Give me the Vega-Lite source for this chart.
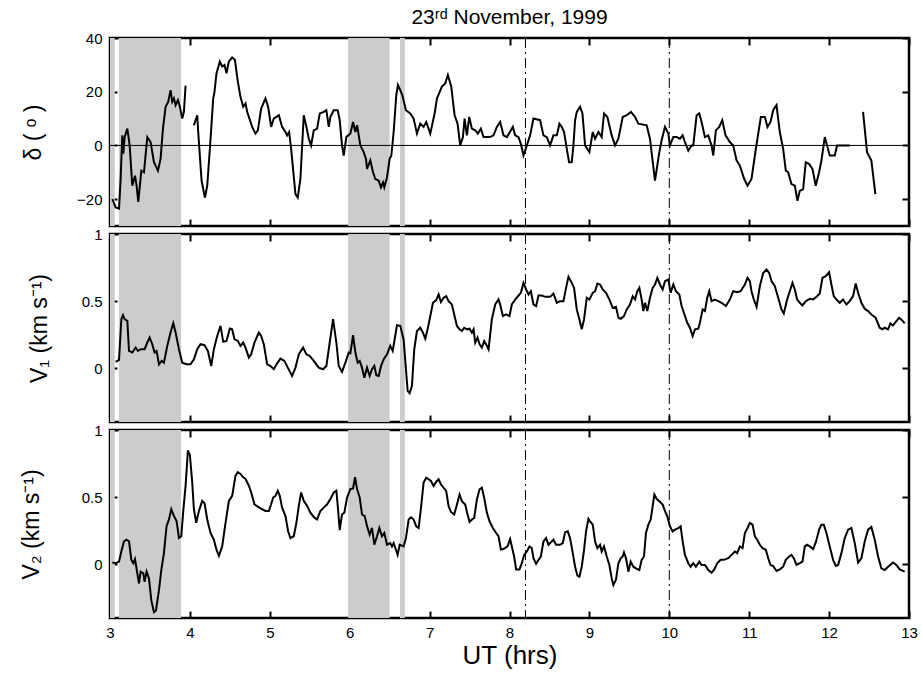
{
"$schema": "https://vega.github.io/schema/vega-lite/v6.json",
"padding": {"left": 18, "top": 5, "right": 8, "bottom": 2},
"spacing": -4,
"datasets": {
"shade": [{"a":3.0,"b":3.06},{"a":3.11,"b":3.89},{"a":5.98,"b":6.5},{"a":6.63,"b":6.69}],
"dash": [{"t":8.2},{"t":10.0}],
"d1": [
{"t":3.029,"v":-20,"s":1},{"t":3.071,"v":-23.1,"s":1},{"t":3.113,"v":-23.5,"s":1},{"t":3.133,"v":-12.5,"s":1},{"t":3.154,"v":3.75,"s":1},{"t":3.167,"v":-3.1,"s":1},{"t":3.183,"v":3.1,"s":1},{"t":3.217,"v":6.25,"s":1},{"t":3.246,"v":0,"s":1},{"t":3.279,"v":-15,"s":1},{"t":3.313,"v":-11.25,"s":1},{"t":3.333,"v":-15,"s":1},{"t":3.354,"v":-21,"s":1},{"t":3.392,"v":-9.4,"s":1},{"t":3.425,"v":-10,"s":1},{"t":3.467,"v":3.1,"s":1},{"t":3.508,"v":1.25,"s":1},{"t":3.55,"v":-6.25,"s":1},{"t":3.6,"v":-9.4,"s":1},{"t":3.633,"v":-5,"s":1},{"t":3.663,"v":6.25,"s":1},{"t":3.696,"v":14.4,"s":1},{"t":3.729,"v":16.25,"s":1},{"t":3.758,"v":20.6,"s":1},{"t":3.779,"v":16.25,"s":1},{"t":3.8,"v":17.5,"s":1},{"t":3.821,"v":15,"s":1},{"t":3.85,"v":16.9,"s":1},{"t":3.875,"v":14.4,"s":1},{"t":3.904,"v":10,"s":1},{"t":3.925,"v":12.5,"s":1},{"t":3.946,"v":22.25,"s":1},
{"t":4.05,"v":7.5,"s":2},{"t":4.092,"v":11.25,"s":2},{"t":4.104,"v":5,"s":2},{"t":4.146,"v":-13.1,"s":2},{"t":4.188,"v":-19.4,"s":2},{"t":4.217,"v":-15,"s":2},{"t":4.25,"v":-1.25,"s":2},{"t":4.292,"v":17.5,"s":2},{"t":4.308,"v":20,"s":2},{"t":4.333,"v":26.9,"s":2},{"t":4.375,"v":31.25,"s":2},{"t":4.404,"v":29.4,"s":2},{"t":4.433,"v":30,"s":2},{"t":4.458,"v":26.9,"s":2},{"t":4.488,"v":31.25,"s":2},{"t":4.529,"v":32.75,"s":2},{"t":4.563,"v":31.9,"s":2},{"t":4.6,"v":23.75,"s":2},{"t":4.633,"v":18.1,"s":2},{"t":4.667,"v":14.4,"s":2},{"t":4.696,"v":15.6,"s":2},{"t":4.717,"v":12.5,"s":2},{"t":4.779,"v":6.9,"s":2},{"t":4.821,"v":4.4,"s":2},{"t":4.85,"v":5.6,"s":2},{"t":4.892,"v":13.75,"s":2},{"t":4.946,"v":17.5,"s":2},{"t":4.979,"v":14.4,"s":2},{"t":5.017,"v":6.9,"s":2},{"t":5.05,"v":10,"s":2},{"t":5.113,"v":11.25,"s":2},{"t":5.154,"v":6.9,"s":2},{"t":5.196,"v":5,"s":2},{"t":5.217,"v":3.75,"s":2},{"t":5.242,"v":5,"s":2},{"t":5.267,"v":-1.25,"s":2},{"t":5.321,"v":-18.1,"s":2},{"t":5.35,"v":-19.4,"s":2},{"t":5.383,"v":-12.5,"s":2},{"t":5.425,"v":11.25,"s":2},{"t":5.454,"v":7.5,"s":2},{"t":5.488,"v":2.5,"s":2},{"t":5.517,"v":0,"s":2},{"t":5.55,"v":5.6,"s":2},{"t":5.592,"v":6.25,"s":2},{"t":5.625,"v":11.9,"s":2},{"t":5.675,"v":12.5,"s":2},{"t":5.708,"v":13.1,"s":2},{"t":5.738,"v":6.9,"s":2},{"t":5.758,"v":10.6,"s":2},{"t":5.8,"v":13.1,"s":2},{"t":5.85,"v":13.1,"s":2},{"t":5.875,"v":9.4,"s":2},{"t":5.904,"v":0,"s":2},{"t":5.925,"v":-3.75,"s":2},{"t":5.958,"v":3.1,"s":2},{"t":6.008,"v":4.4,"s":2},{"t":6.042,"v":8.75,"s":2},{"t":6.071,"v":5,"s":2},{"t":6.092,"v":7.5,"s":2},{"t":6.113,"v":3.75,"s":2},{"t":6.133,"v":0,"s":2},{"t":6.175,"v":-2.5,"s":2},{"t":6.204,"v":-5,"s":2},{"t":6.217,"v":-8.75,"s":2},{"t":6.258,"v":-5.6,"s":2},{"t":6.292,"v":-10,"s":2},{"t":6.321,"v":-12.5,"s":2},{"t":6.363,"v":-13.1,"s":2},{"t":6.392,"v":-15.6,"s":2},{"t":6.417,"v":-13.75,"s":2},{"t":6.433,"v":-15.6,"s":2},{"t":6.467,"v":-11.9,"s":2},{"t":6.5,"v":-5,"s":2},{"t":6.521,"v":-3.75,"s":2},{"t":6.55,"v":5,"s":2},{"t":6.583,"v":18.75,"s":2},{"t":6.604,"v":22.5,"s":2},{"t":6.633,"v":20.6,"s":2},{"t":6.658,"v":18.75,"s":2},{"t":6.704,"v":13.1,"s":2},{"t":6.758,"v":11.9,"s":2},{"t":6.8,"v":10,"s":2},{"t":6.842,"v":4.4,"s":2},{"t":6.883,"v":8.1,"s":2},{"t":6.925,"v":6.9,"s":2},{"t":6.958,"v":8.75,"s":2},{"t":7.008,"v":4.4,"s":2},{"t":7.063,"v":11.9,"s":2},{"t":7.092,"v":17.5,"s":2},{"t":7.154,"v":21.9,"s":2},{"t":7.196,"v":23.1,"s":2},{"t":7.229,"v":26.25,"s":2},{"t":7.271,"v":21.9,"s":2},{"t":7.313,"v":11.25,"s":2},{"t":7.35,"v":8.1,"s":2},{"t":7.383,"v":0,"s":2},{"t":7.417,"v":3.1,"s":2},{"t":7.438,"v":10,"s":2},{"t":7.467,"v":3.75,"s":2},{"t":7.496,"v":10.6,"s":2},{"t":7.529,"v":6.25,"s":2},{"t":7.571,"v":5.6,"s":2},{"t":7.604,"v":4.4,"s":2},{"t":7.642,"v":6.25,"s":2},{"t":7.675,"v":3.1,"s":2},{"t":7.758,"v":3.1,"s":2},{"t":7.8,"v":3.75,"s":2},{"t":7.842,"v":6.9,"s":2},{"t":7.883,"v":8.75,"s":2},{"t":7.925,"v":3.75,"s":2},{"t":7.967,"v":3.1,"s":2},{"t":8.042,"v":6.9,"s":2},{"t":8.071,"v":3.75,"s":2},{"t":8.113,"v":3.1,"s":2},{"t":8.142,"v":0.6,"s":2},{"t":8.175,"v":-3.75,"s":2},{"t":8.217,"v":0,"s":2},{"t":8.258,"v":3.75,"s":2},{"t":8.3,"v":10,"s":2},{"t":8.383,"v":9.4,"s":2},{"t":8.425,"v":3.75,"s":2},{"t":8.467,"v":3.1,"s":2},{"t":8.508,"v":0,"s":2},{"t":8.55,"v":3.75,"s":2},{"t":8.592,"v":3.75,"s":2},{"t":8.625,"v":8.1,"s":2},{"t":8.654,"v":6.9,"s":2},{"t":8.683,"v":5,"s":2},{"t":8.717,"v":-1.25,"s":2},{"t":8.746,"v":-6.25,"s":2},{"t":8.779,"v":-6.25,"s":2},{"t":8.8,"v":0,"s":2},{"t":8.821,"v":9.4,"s":2},{"t":8.842,"v":12.5,"s":2},{"t":8.883,"v":14.4,"s":2},{"t":8.913,"v":11.9,"s":2},{"t":8.946,"v":0,"s":2},{"t":9.0,"v":-2.5,"s":2},{"t":9.042,"v":5,"s":2},{"t":9.071,"v":2.5,"s":2},{"t":9.113,"v":5,"s":2},{"t":9.154,"v":3.1,"s":2},{"t":9.183,"v":11.9,"s":2},{"t":9.225,"v":10.6,"s":2},{"t":9.279,"v":3.75,"s":2},{"t":9.321,"v":0,"s":2},{"t":9.363,"v":2.5,"s":2},{"t":9.417,"v":10.6,"s":2},{"t":9.467,"v":11.25,"s":2},{"t":9.521,"v":12.5,"s":2},{"t":9.571,"v":10.6,"s":2},{"t":9.613,"v":8.1,"s":2},{"t":9.717,"v":7.5,"s":2},{"t":9.758,"v":2.5,"s":2},{"t":9.821,"v":-13.1,"s":2},{"t":9.875,"v":-2.5,"s":2},{"t":9.904,"v":1.9,"s":2},{"t":9.946,"v":6.9,"s":2},{"t":9.988,"v":4.4,"s":2},{"t":10.008,"v":0,"s":2},{"t":10.05,"v":3.1,"s":2},{"t":10.092,"v":3.1,"s":2},{"t":10.133,"v":2.5,"s":2},{"t":10.167,"v":3.75,"s":2},{"t":10.196,"v":1.25,"s":2},{"t":10.238,"v":-1.9,"s":2},{"t":10.279,"v":0,"s":2},{"t":10.3,"v":0,"s":2},{"t":10.342,"v":11.25,"s":2},{"t":10.375,"v":11.9,"s":2},{"t":10.404,"v":8.75,"s":2},{"t":10.446,"v":3.1,"s":2},{"t":10.488,"v":3.75,"s":2},{"t":10.529,"v":0,"s":2},{"t":10.55,"v":-3.75,"s":2},{"t":10.583,"v":5.6,"s":2},{"t":10.625,"v":6.9,"s":2},{"t":10.663,"v":9.4,"s":2},{"t":10.704,"v":3.75,"s":2},{"t":10.758,"v":1.25,"s":2},{"t":10.8,"v":0,"s":2},{"t":10.842,"v":-5.6,"s":2},{"t":10.883,"v":-7.5,"s":2},{"t":10.938,"v":-12.5,"s":2},{"t":10.979,"v":-15,"s":2},{"t":11.029,"v":-12.5,"s":2},{"t":11.071,"v":-3.75,"s":2},{"t":11.113,"v":4.4,"s":2},{"t":11.146,"v":10.6,"s":2},{"t":11.196,"v":10.6,"s":2},{"t":11.229,"v":6.9,"s":2},{"t":11.267,"v":8.75,"s":2},{"t":11.3,"v":13.1,"s":2},{"t":11.342,"v":15,"s":2},{"t":11.383,"v":5,"s":2},{"t":11.425,"v":-1.25,"s":2},{"t":11.458,"v":-9.4,"s":2},{"t":11.488,"v":-10,"s":2},{"t":11.529,"v":-14.4,"s":2},{"t":11.571,"v":-15,"s":2},{"t":11.604,"v":-20.6,"s":2},{"t":11.633,"v":-16.9,"s":2},{"t":11.675,"v":-16.25,"s":2},{"t":11.708,"v":-6.25,"s":2},{"t":11.75,"v":-6.9,"s":2},{"t":11.792,"v":-8.75,"s":2},{"t":11.833,"v":-15,"s":2},{"t":11.875,"v":-10,"s":2},{"t":11.904,"v":-5.6,"s":2},{"t":11.946,"v":3.1,"s":2},{"t":11.975,"v":0,"s":2},{"t":12.008,"v":-3.75,"s":2},{"t":12.071,"v":-3.75,"s":2},{"t":12.1,"v":0,"s":2},{"t":12.258,"v":0,"s":2},
{"t":12.425,"v":12.5,"s":3},{"t":12.475,"v":-2.5,"s":3},{"t":12.529,"v":-5.6,"s":3},{"t":12.579,"v":-18.1,"s":3}
],
"v1": [
{"t":3.071,"v":0.047},{"t":3.113,"v":0.062},{"t":3.142,"v":0.366},{"t":3.163,"v":0.396},{"t":3.183,"v":0.366},{"t":3.217,"v":0.353},{"t":3.238,"v":0.129},{"t":3.279,"v":0.117},{"t":3.321,"v":0.154},{"t":3.35,"v":0.129},{"t":3.383,"v":0.142},{"t":3.433,"v":0.142},{"t":3.467,"v":0.192},{"t":3.496,"v":0.229},{"t":3.529,"v":0.179},{"t":3.558,"v":0.117},{"t":3.583,"v":0.129},{"t":3.613,"v":0.03},{"t":3.646,"v":0.055},{"t":3.675,"v":0.042},{"t":3.717,"v":0.167},{"t":3.758,"v":0.266},{"t":3.792,"v":0.336},{"t":3.821,"v":0.266},{"t":3.863,"v":0.142},{"t":3.904,"v":0.042},{"t":3.958,"v":0.03},{"t":4.008,"v":0.03},{"t":4.05,"v":0.067},{"t":4.092,"v":0.142},{"t":4.133,"v":0.179},{"t":4.183,"v":0.172},{"t":4.225,"v":0.129},{"t":4.267,"v":0.017},{"t":4.3,"v":0.142},{"t":4.342,"v":0.241},{"t":4.383,"v":0.316},{"t":4.417,"v":0.197},{"t":4.458,"v":0.204},{"t":4.5,"v":0.296},{"t":4.529,"v":0.291},{"t":4.558,"v":0.216},{"t":4.6,"v":0.204},{"t":4.633,"v":0.167},{"t":4.667,"v":0.192},{"t":4.696,"v":0.154},{"t":4.738,"v":0.08},{"t":4.767,"v":0.104},{"t":4.808,"v":0.192},{"t":4.863,"v":0.266},{"t":4.892,"v":0.241},{"t":4.925,"v":0.179},{"t":4.967,"v":0.03},{"t":5.008,"v":0.017},{"t":5.05,"v":-0.007},{"t":5.092,"v":0.037},{"t":5.133,"v":0.072},{"t":5.183,"v":0.055},{"t":5.225,"v":0.005},{"t":5.279,"v":-0.057},{"t":5.321,"v":0.005},{"t":5.363,"v":0.104},{"t":5.417,"v":0.154},{"t":5.458,"v":0.104},{"t":5.5,"v":0.092},{"t":5.55,"v":0.055},{"t":5.613,"v":0.005},{"t":5.667,"v":-0.007},{"t":5.708,"v":0.017},{"t":5.75,"v":0.192},{"t":5.792,"v":0.366},{"t":5.833,"v":0.192},{"t":5.863,"v":0.017},{"t":5.904,"v":-0.027},{"t":5.946,"v":0.042},{"t":5.988,"v":0.117},{"t":6.008,"v":0.112},{"t":6.042,"v":0.246},{"t":6.071,"v":0.117},{"t":6.1,"v":0.042},{"t":6.125,"v":0.055},{"t":6.154,"v":0.005},{"t":6.183,"v":-0.07},{"t":6.217,"v":0.005},{"t":6.25,"v":-0.057},{"t":6.279,"v":-0.007},{"t":6.308,"v":0.017},{"t":6.333,"v":-0.052},{"t":6.363,"v":-0.057},{"t":6.392,"v":0.017},{"t":6.425,"v":0.067},{"t":6.467,"v":0.104},{"t":6.508,"v":0.167},{"t":6.538,"v":0.129},{"t":6.563,"v":0.216},{"t":6.592,"v":0.321},{"t":6.633,"v":0.316},{"t":6.675,"v":0.215},{"t":6.704,"v":-0.007},{"t":6.725,"v":-0.168},{"t":6.75,"v":-0.186},{"t":6.779,"v":-0.131},{"t":6.808,"v":0.141},{"t":6.842,"v":0.277},{"t":6.883,"v":0.302},{"t":6.917,"v":0.265},{"t":6.946,"v":0.22},{"t":6.975,"v":0.29},{"t":7.017,"v":0.414},{"t":7.042,"v":0.488},{"t":7.083,"v":0.508},{"t":7.113,"v":0.55},{"t":7.142,"v":0.493},{"t":7.175,"v":0.525},{"t":7.208,"v":0.537},{"t":7.238,"v":0.5},{"t":7.279,"v":0.475},{"t":7.308,"v":0.401},{"t":7.342,"v":0.315},{"t":7.375,"v":0.29},{"t":7.404,"v":0.277},{"t":7.433,"v":0.302},{"t":7.467,"v":0.29},{"t":7.5,"v":0.295},{"t":7.529,"v":0.265},{"t":7.55,"v":0.29},{"t":7.571,"v":0.191},{"t":7.6,"v":0.228},{"t":7.625,"v":0.178},{"t":7.654,"v":0.154},{"t":7.683,"v":0.203},{"t":7.708,"v":0.178},{"t":7.738,"v":0.141},{"t":7.779,"v":0.364},{"t":7.821,"v":0.475},{"t":7.863,"v":0.513},{"t":7.883,"v":0.475},{"t":7.917,"v":0.389},{"t":7.958,"v":0.401},{"t":8.0,"v":0.389},{"t":8.029,"v":0.475},{"t":8.071,"v":0.512},{"t":8.113,"v":0.542},{"t":8.142,"v":0.562},{"t":8.175,"v":0.636},{"t":8.208,"v":0.587},{"t":8.238,"v":0.55},{"t":8.267,"v":0.574},{"t":8.3,"v":0.475},{"t":8.333,"v":0.463},{"t":8.363,"v":0.542},{"t":8.404,"v":0.542},{"t":8.446,"v":0.532},{"t":8.508,"v":0.532},{"t":8.55,"v":0.557},{"t":8.592,"v":0.488},{"t":8.633,"v":0.5},{"t":8.675,"v":0.5},{"t":8.708,"v":0.599},{"t":8.738,"v":0.681},{"t":8.779,"v":0.636},{"t":8.808,"v":0.599},{"t":8.842,"v":0.438},{"t":8.875,"v":0.364},{"t":8.904,"v":0.29},{"t":8.933,"v":0.364},{"t":8.967,"v":0.525},{"t":9.0,"v":0.512},{"t":9.042,"v":0.562},{"t":9.071,"v":0.574},{"t":9.1,"v":0.631},{"t":9.133,"v":0.624},{"t":9.167,"v":0.587},{"t":9.208,"v":0.562},{"t":9.25,"v":0.512},{"t":9.292,"v":0.45},{"t":9.333,"v":0.458},{"t":9.363,"v":0.376},{"t":9.392,"v":0.369},{"t":9.433,"v":0.389},{"t":9.467,"v":0.438},{"t":9.508,"v":0.475},{"t":9.542,"v":0.537},{"t":9.571,"v":0.512},{"t":9.6,"v":0.574},{"t":9.625,"v":0.599},{"t":9.654,"v":0.512},{"t":9.675,"v":0.426},{"t":9.696,"v":0.488},{"t":9.725,"v":0.426},{"t":9.758,"v":0.525},{"t":9.792,"v":0.599},{"t":9.821,"v":0.624},{"t":9.85,"v":0.673},{"t":9.883,"v":0.624},{"t":9.917,"v":0.587},{"t":9.946,"v":0.649},{"t":9.988,"v":0.661},{"t":10.017,"v":0.562},{"t":10.05,"v":0.624},{"t":10.083,"v":0.574},{"t":10.125,"v":0.55},{"t":10.154,"v":0.463},{"t":10.196,"v":0.389},{"t":10.225,"v":0.339},{"t":10.258,"v":0.302},{"t":10.292,"v":0.24},{"t":10.321,"v":0.29},{"t":10.363,"v":0.295},{"t":10.383,"v":0.339},{"t":10.417,"v":0.438},{"t":10.446,"v":0.426},{"t":10.475,"v":0.525},{"t":10.5,"v":0.574},{"t":10.529,"v":0.5},{"t":10.571,"v":0.512},{"t":10.613,"v":0.5},{"t":10.654,"v":0.488},{"t":10.708,"v":0.463},{"t":10.758,"v":0.512},{"t":10.8,"v":0.574},{"t":10.85,"v":0.567},{"t":10.892,"v":0.574},{"t":10.946,"v":0.624},{"t":10.979,"v":0.673},{"t":11.008,"v":0.649},{"t":11.029,"v":0.574},{"t":11.058,"v":0.512},{"t":11.092,"v":0.458},{"t":11.133,"v":0.611},{"t":11.175,"v":0.71},{"t":11.217,"v":0.735},{"t":11.25,"v":0.71},{"t":11.279,"v":0.649},{"t":11.321,"v":0.611},{"t":11.363,"v":0.525},{"t":11.404,"v":0.438},{"t":11.433,"v":0.408},{"t":11.475,"v":0.512},{"t":11.508,"v":0.574},{"t":11.542,"v":0.636},{"t":11.571,"v":0.587},{"t":11.6,"v":0.512},{"t":11.633,"v":0.488},{"t":11.667,"v":0.468},{"t":11.708,"v":0.5},{"t":11.758,"v":0.517},{"t":11.8,"v":0.512},{"t":11.842,"v":0.532},{"t":11.883,"v":0.557},{"t":11.917,"v":0.673},{"t":11.958,"v":0.686},{"t":12.0,"v":0.715},{"t":12.029,"v":0.624},{"t":12.058,"v":0.537},{"t":12.092,"v":0.512},{"t":12.133,"v":0.488},{"t":12.175,"v":0.512},{"t":12.217,"v":0.475},{"t":12.258,"v":0.5},{"t":12.3,"v":0.537},{"t":12.333,"v":0.631},{"t":12.363,"v":0.562},{"t":12.404,"v":0.488},{"t":12.446,"v":0.443},{"t":12.488,"v":0.426},{"t":12.529,"v":0.401},{"t":12.583,"v":0.376},{"t":12.633,"v":0.302},{"t":12.667,"v":0.29},{"t":12.696,"v":0.302},{"t":12.738,"v":0.29},{"t":12.767,"v":0.334},{"t":12.8,"v":0.319},{"t":12.842,"v":0.351},{"t":12.875,"v":0.376},{"t":12.904,"v":0.364},{"t":12.946,"v":0.334}
],
"v2": [
{"t":3.029,"v":0.013},{"t":3.071,"v":0.008},{"t":3.113,"v":0.02},{"t":3.142,"v":0.095},{"t":3.175,"v":0.171},{"t":3.208,"v":0.183},{"t":3.238,"v":0.171},{"t":3.267,"v":0.033},{"t":3.292,"v":0.008},{"t":3.313,"v":0.038},{"t":3.342,"v":-0.068},{"t":3.363,"v":-0.143},{"t":3.383,"v":-0.055},{"t":3.417,"v":-0.068},{"t":3.433,"v":-0.131},{"t":3.458,"v":-0.055},{"t":3.488,"v":-0.106},{"t":3.517,"v":-0.269},{"t":3.55,"v":-0.357},{"t":3.575,"v":-0.344},{"t":3.613,"v":-0.193},{"t":3.642,"v":-0.043},{"t":3.675,"v":0.083},{"t":3.708,"v":0.284},{"t":3.738,"v":0.334},{"t":3.767,"v":0.41},{"t":3.8,"v":0.359},{"t":3.833,"v":0.322},{"t":3.863,"v":0.196},{"t":3.892,"v":0.209},{"t":3.917,"v":0.397},{"t":3.946,"v":0.585},{"t":3.975,"v":0.849},{"t":4.0,"v":0.812},{"t":4.029,"v":0.611},{"t":4.05,"v":0.41},{"t":4.079,"v":0.309},{"t":4.113,"v":0.397},{"t":4.154,"v":0.472},{"t":4.183,"v":0.455},{"t":4.217,"v":0.334},{"t":4.258,"v":0.234},{"t":4.3,"v":0.183},{"t":4.333,"v":0.108},{"t":4.363,"v":0.063},{"t":4.404,"v":0.133},{"t":4.446,"v":0.309},{"t":4.488,"v":0.472},{"t":4.529,"v":0.51},{"t":4.571,"v":0.661},{"t":4.6,"v":0.686},{"t":4.633,"v":0.673},{"t":4.667,"v":0.648},{"t":4.696,"v":0.636},{"t":4.738,"v":0.585},{"t":4.767,"v":0.535},{"t":4.808,"v":0.447},{"t":4.85,"v":0.43},{"t":4.904,"v":0.41},{"t":4.946,"v":0.397},{"t":4.988,"v":0.397},{"t":5.017,"v":0.447},{"t":5.042,"v":0.497},{"t":5.071,"v":0.51},{"t":5.1,"v":0.548},{"t":5.125,"v":0.51},{"t":5.154,"v":0.422},{"t":5.196,"v":0.359},{"t":5.229,"v":0.246},{"t":5.258,"v":0.196},{"t":5.3,"v":0.209},{"t":5.333,"v":0.309},{"t":5.363,"v":0.435},{"t":5.392,"v":0.535},{"t":5.425,"v":0.472},{"t":5.467,"v":0.435},{"t":5.508,"v":0.384},{"t":5.558,"v":0.347},{"t":5.592,"v":0.334},{"t":5.633,"v":0.397},{"t":5.675,"v":0.422},{"t":5.717,"v":0.447},{"t":5.758,"v":0.485},{"t":5.8,"v":0.535},{"t":5.833,"v":0.548},{"t":5.854,"v":0.41},{"t":5.875,"v":0.254},{"t":5.904,"v":0.372},{"t":5.933,"v":0.384},{"t":5.967,"v":0.497},{"t":6.008,"v":0.56},{"t":6.042,"v":0.565},{"t":6.067,"v":0.648},{"t":6.092,"v":0.56},{"t":6.125,"v":0.497},{"t":6.154,"v":0.372},{"t":6.188,"v":0.359},{"t":6.217,"v":0.284},{"t":6.25,"v":0.221},{"t":6.279,"v":0.271},{"t":6.308,"v":0.146},{"t":6.342,"v":0.209},{"t":6.371,"v":0.271},{"t":6.404,"v":0.209},{"t":6.433,"v":0.234},{"t":6.467,"v":0.146},{"t":6.508,"v":0.158},{"t":6.529,"v":0.133},{"t":6.55,"v":0.158},{"t":6.571,"v":0.121},{"t":6.6,"v":0.07},{"t":6.625,"v":0.146},{"t":6.675,"v":0.133},{"t":6.704,"v":0.195},{"t":6.738,"v":0.333},{"t":6.767,"v":0.35},{"t":6.8,"v":0.333},{"t":6.833,"v":0.283},{"t":6.863,"v":0.27},{"t":6.892,"v":0.42},{"t":6.925,"v":0.608},{"t":6.958,"v":0.645},{"t":6.988,"v":0.633},{"t":7.017,"v":0.62},{"t":7.05,"v":0.583},{"t":7.083,"v":0.615},{"t":7.113,"v":0.633},{"t":7.142,"v":0.595},{"t":7.175,"v":0.57},{"t":7.208,"v":0.545},{"t":7.238,"v":0.433},{"t":7.267,"v":0.39},{"t":7.308,"v":0.37},{"t":7.342,"v":0.445},{"t":7.375,"v":0.52},{"t":7.404,"v":0.47},{"t":7.446,"v":0.445},{"t":7.475,"v":0.37},{"t":7.5,"v":0.315},{"t":7.529,"v":0.333},{"t":7.558,"v":0.345},{"t":7.592,"v":0.483},{"t":7.625,"v":0.558},{"t":7.654,"v":0.57},{"t":7.683,"v":0.495},{"t":7.717,"v":0.383},{"t":7.75,"v":0.32},{"t":7.792,"v":0.27},{"t":7.833,"v":0.233},{"t":7.863,"v":0.208},{"t":7.892,"v":0.11},{"t":7.925,"v":0.113},{"t":7.975,"v":0.133},{"t":8.008,"v":0.188},{"t":8.029,"v":0.133},{"t":8.058,"v":0.058},{"t":8.083,"v":-0.038},{"t":8.125,"v":-0.038},{"t":8.154,"v":0.008},{"t":8.183,"v":0.07},{"t":8.217,"v":0.095},{"t":8.25,"v":0.133},{"t":8.279,"v":0.12},{"t":8.3,"v":0.045},{"t":8.333,"v":0.003},{"t":8.363,"v":0.033},{"t":8.392,"v":0.058},{"t":8.425,"v":0.17},{"t":8.458,"v":0.195},{"t":8.488,"v":0.145},{"t":8.517,"v":0.163},{"t":8.55,"v":0.183},{"t":8.583,"v":0.145},{"t":8.633,"v":0.145},{"t":8.667,"v":0.158},{"t":8.696,"v":0.238},{"t":8.729,"v":0.245},{"t":8.758,"v":0.195},{"t":8.792,"v":0.083},{"t":8.821,"v":-0.018},{"t":8.85,"v":-0.085},{"t":8.875,"v":-0.093},{"t":8.904,"v":-0.018},{"t":8.933,"v":0.108},{"t":8.958,"v":0.245},{"t":8.988,"v":0.338},{"t":9.008,"v":0.32},{"t":9.042,"v":0.295},{"t":9.071,"v":0.17},{"t":9.1,"v":0.12},{"t":9.133,"v":0.145},{"t":9.154,"v":0.095},{"t":9.183,"v":0.133},{"t":9.217,"v":0.058},{"t":9.25,"v":-0.005},{"t":9.279,"v":-0.105},{"t":9.3,"v":-0.155},{"t":9.333,"v":-0.113},{"t":9.363,"v":0.008},{"t":9.392,"v":0.045},{"t":9.417,"v":0.058},{"t":9.433,"v":0.088},{"t":9.458,"v":0.045},{"t":9.488,"v":-0.055},{"t":9.517,"v":0.02},{"t":9.55,"v":-0.018},{"t":9.583,"v":-0.03},{"t":9.625,"v":-0.043},{"t":9.654,"v":0.033},{"t":9.683,"v":0.058},{"t":9.708,"v":0.233},{"t":9.738,"v":0.295},{"t":9.767,"v":0.333},{"t":9.792,"v":0.433},{"t":9.813,"v":0.52},{"t":9.842,"v":0.488},{"t":9.875,"v":0.47},{"t":9.917,"v":0.445},{"t":9.946,"v":0.395},{"t":9.975,"v":0.358},{"t":10.008,"v":0.283},{"t":10.042,"v":0.245},{"t":10.071,"v":0.258},{"t":10.113,"v":0.27},{"t":10.142,"v":0.283},{"t":10.167,"v":0.17},{"t":10.196,"v":0.07},{"t":10.238,"v":0.008},{"t":10.267,"v":-0.018},{"t":10.3,"v":0.008},{"t":10.333,"v":-0.018},{"t":10.375,"v":0.02},{"t":10.404,"v":-0.005},{"t":10.446,"v":-0.005},{"t":10.488,"v":-0.043},{"t":10.529,"v":-0.063},{"t":10.563,"v":-0.038},{"t":10.6,"v":0.008},{"t":10.642,"v":0.033},{"t":10.683,"v":0.033},{"t":10.738,"v":0.045},{"t":10.779,"v":0.07},{"t":10.821,"v":0.095},{"t":10.85,"v":0.083},{"t":10.883,"v":0.133},{"t":10.917,"v":0.12},{"t":10.946,"v":0.233},{"t":10.979,"v":0.27},{"t":11.008,"v":0.308},{"t":11.042,"v":0.295},{"t":11.071,"v":0.208},{"t":11.1,"v":0.183},{"t":11.133,"v":0.145},{"t":11.167,"v":0.12},{"t":11.208,"v":0.108},{"t":11.238,"v":0.045},{"t":11.267,"v":-0.005},{"t":11.3,"v":-0.013},{"t":11.342,"v":-0.05},{"t":11.383,"v":-0.038},{"t":11.425,"v":-0.018},{"t":11.458,"v":0.033},{"t":11.5,"v":0.058},{"t":11.529,"v":0.07},{"t":11.558,"v":0.045},{"t":11.592,"v":-0.005},{"t":11.633,"v":0.008},{"t":11.667,"v":0.02},{"t":11.696,"v":0.133},{"t":11.725,"v":0.145},{"t":11.758,"v":0.133},{"t":11.8,"v":0.113},{"t":11.833,"v":0.163},{"t":11.875,"v":0.258},{"t":11.904,"v":0.295},{"t":11.933,"v":0.295},{"t":11.967,"v":0.233},{"t":12.008,"v":0.133},{"t":12.05,"v":0.033},{"t":12.083,"v":-0.013},{"t":12.113,"v":-0.005},{"t":12.154,"v":0.083},{"t":12.196,"v":0.195},{"t":12.238,"v":0.258},{"t":12.279,"v":0.27},{"t":12.321,"v":0.158},{"t":12.363,"v":0.013},{"t":12.404,"v":0.045},{"t":12.446,"v":0.17},{"t":12.488,"v":0.258},{"t":12.529,"v":0.278},{"t":12.571,"v":0.183},{"t":12.613,"v":0.058},{"t":12.654,"v":-0.03},{"t":12.696,"v":-0.043},{"t":12.738,"v":-0.018},{"t":12.8,"v":0.013},{"t":12.842,"v":-0.005},{"t":12.883,"v":-0.038},{"t":12.946,"v":-0.055}
]
},
"vconcat": [
{
"width": 799, "height": 188,
"title": {"text": "23ʳᵈ November, 1999", "fontSize": 21, "fontWeight": "normal", "font": "Liberation Sans", "color": "black", "offset": 3},
"layer": [
{"data": {"name": "shade"}, "mark": {"type": "rect", "color": "#cccccc"},
 "encoding": {"x": {"field": "a", "type": "quantitative", "scale": {"domain": [3, 13], "nice": false, "zero": false}, "axis": {"orient": "bottom", "values": [3,4,5,6,7,8,9,10,11,12,13], "labels": false, "title": null}}, "x2": {"field": "b"}}},
{"data": {"name": "dash"}, "mark": {"type": "rule", "color": "black", "strokeWidth": 1, "strokeDash": [10, 4, 2, 4]},
 "encoding": {"x": {"field": "t", "type": "quantitative", "scale": {"domain": [3, 13], "nice": false, "zero": false}, "axis": null}}},
{"data": {"values": [{"z": 0}]}, "mark": {"type": "rule", "color": "black", "strokeWidth": 1},
 "encoding": {"y": {"field": "z", "type": "quantitative", "scale": {"domain": [-30, 40], "nice": false, "zero": false}, "axis": null}}},
{"data": {"name": "d1"}, "mark": {"type": "line", "color": "black", "strokeWidth": 2},
 "encoding": {"x": {"field": "t", "type": "quantitative", "scale": {"domain": [3, 13], "nice": false, "zero": false}, "axis": null},
  "y": {"field": "v", "type": "quantitative", "scale": {"domain": [-30, 40], "nice": false, "zero": false}, "axis": {"orient": "left", "values": [-20, 0, 20, 40], "title": "δ  (  ᵒ  )", "labelPadding": 15, "titlePadding": 31}},
  "detail": {"field": "s"}}},
{"data": {"name": "d1"}, "mark": {"type": "line", "opacity": 0},
 "encoding": {"x": {"field": "t", "type": "quantitative", "scale": {"domain": [3, 13], "nice": false, "zero": false}, "axis": {"orient": "top", "values": [3,4,5,6,7,8,9,10,11,12,13], "labels": false, "title": null}},
  "y": {"field": "v", "type": "quantitative", "scale": {"domain": [-30, 40], "nice": false, "zero": false}, "axis": {"orient": "right", "values": [-20, 0, 20, 40], "labels": false, "title": null}},
  "detail": {"field": "s"}}}
],
"resolve": {"axis": {"x": "independent", "y": "independent"}}
},
{
"width": 799, "height": 188,
"layer": [
{"data": {"name": "shade"}, "mark": {"type": "rect", "color": "#cccccc"},
 "encoding": {"x": {"field": "a", "type": "quantitative", "scale": {"domain": [3, 13], "nice": false, "zero": false}, "axis": {"orient": "bottom", "values": [3,4,5,6,7,8,9,10,11,12,13], "labels": false, "title": null}}, "x2": {"field": "b"}}},
{"data": {"name": "dash"}, "mark": {"type": "rule", "color": "black", "strokeWidth": 1, "strokeDash": [10, 4, 2, 4]},
 "encoding": {"x": {"field": "t", "type": "quantitative", "scale": {"domain": [3, 13], "nice": false, "zero": false}, "axis": null}}},
{"data": {"name": "v1"}, "mark": {"type": "line", "color": "black", "strokeWidth": 2},
 "encoding": {"x": {"field": "t", "type": "quantitative", "scale": {"domain": [3, 13], "nice": false, "zero": false}, "axis": null},
  "y": {"field": "v", "type": "quantitative", "scale": {"domain": [-0.4, 1], "nice": false, "zero": false}, "axis": {"orient": "left", "values": [0, 0.5, 1], "format": "~f", "title": "V₁ (km s⁻¹)", "labelPadding": 15, "titlePadding": 30}}}},
{"data": {"name": "v1"}, "mark": {"type": "line", "opacity": 0},
 "encoding": {"x": {"field": "t", "type": "quantitative", "scale": {"domain": [3, 13], "nice": false, "zero": false}, "axis": {"orient": "top", "values": [3,4,5,6,7,8,9,10,11,12,13], "labels": false, "title": null}},
  "y": {"field": "v", "type": "quantitative", "scale": {"domain": [-0.4, 1], "nice": false, "zero": false}, "axis": {"orient": "right", "values": [0, 0.5, 1], "labels": false, "title": null}}}}
],
"resolve": {"axis": {"x": "independent", "y": "independent"}}
},
{
"width": 799, "height": 188,
"layer": [
{"data": {"name": "shade"}, "mark": {"type": "rect", "color": "#cccccc"},
 "encoding": {"x": {"field": "a", "type": "quantitative", "scale": {"domain": [3, 13], "nice": false, "zero": false}, "axis": {"orient": "bottom", "values": [3,4,5,6,7,8,9,10,11,12,13], "title": "UT (hrs)", "titleFontSize": 26, "labelFlush": false, "labelPadding": 14, "titlePadding": 2}}, "x2": {"field": "b"}}},
{"data": {"name": "dash"}, "mark": {"type": "rule", "color": "black", "strokeWidth": 1, "strokeDash": [10, 4, 2, 4]},
 "encoding": {"x": {"field": "t", "type": "quantitative", "scale": {"domain": [3, 13], "nice": false, "zero": false}, "axis": null}}},
{"data": {"name": "v2"}, "mark": {"type": "line", "color": "black", "strokeWidth": 2},
 "encoding": {"x": {"field": "t", "type": "quantitative", "scale": {"domain": [3, 13], "nice": false, "zero": false}, "axis": null},
  "y": {"field": "v", "type": "quantitative", "scale": {"domain": [-0.4, 1], "nice": false, "zero": false}, "axis": {"orient": "left", "values": [0, 0.5, 1], "format": "~f", "title": "V₂ (km s⁻¹)", "labelPadding": 15, "titlePadding": 38}}}},
{"data": {"name": "v2"}, "mark": {"type": "line", "opacity": 0},
 "encoding": {"x": {"field": "t", "type": "quantitative", "scale": {"domain": [3, 13], "nice": false, "zero": false}, "axis": {"orient": "top", "values": [3,4,5,6,7,8,9,10,11,12,13], "labels": false, "title": null}},
  "y": {"field": "v", "type": "quantitative", "scale": {"domain": [-0.4, 1], "nice": false, "zero": false}, "axis": {"orient": "right", "values": [0, 0.5, 1], "labels": false, "title": null}}}}
],
"resolve": {"axis": {"x": "independent", "y": "independent"}}
}
],
"config": {
"view": {"stroke": "black", "strokeWidth": 2.5},
"font": "Liberation Sans",
"axis": {"labelFont": "Liberation Sans", "labelFontSize": 15, "labelColor": "black", "titleFont": "Liberation Sans", "titleFontSize": 23, "titleFontWeight": "normal", "titleColor": "black", "tickColor": "black", "tickWidth": 2, "tickSize": -7, "domain": false, "grid": false}
}
}
